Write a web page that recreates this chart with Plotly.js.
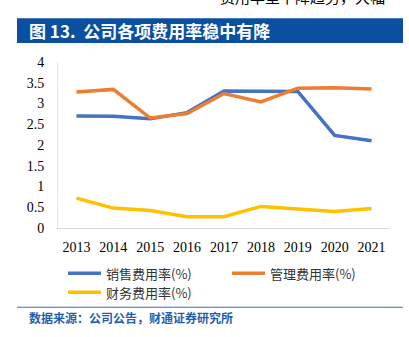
<!DOCTYPE html>
<html>
<head>
<meta charset="utf-8">
<script src="https://cdn.plot.ly/plotly-3.0.1.min.js"></script>
<style>html,body{margin:0;padding:0;background:#fff;}#chart{width:409px;height:337px;}</style>
</head>
<body>
<div id="chart"></div>
<script>
const years = ["2013","2014","2015","2016","2017","2018","2019","2020","2021"];
const salesRate = [2.70, 2.69, 2.63, 2.78, 3.30, 3.29, 3.29, 2.23, 2.10];
const adminRate = [3.28, 3.34, 2.65, 2.76, 3.24, 3.04, 3.37, 3.38, 3.35];
const financeRate = [0.72, 0.48, 0.42, 0.27, 0.27, 0.52, 0.46, 0.40, 0.47];
const seriesNames = ["销售费用率(%)", "管理费用率(%)", "财务费用率(%)"];
const seriesColors = ["#4472C4", "#ED7D31", "#FFC000"];
const labelColors = ["#595959", "#595959", "#262626"];
const yTicks = [0, 0.5, 1, 1.5, 2, 2.5, 3, 3.5, 4];
const titleText = "图 13.  公司各项费用率稳中有降";
const sourceText = "数据来源：公司公告，财通证券研究所";
const topText = "费用率呈下降趋势，大幅";

const allSeries = [salesRate, adminRate, financeRate];
const traces = allSeries.map((vals, i) => ({
  x: years, y: vals, type: "scatter", mode: "lines", name: seriesNames[i],
  line: {color: seriesColors[i], width: 3.5}, hoverinfo: "skip", showlegend: false
}));

const W = 409, H = 337;
const PX0 = 58, PW = 332, PY0 = 228.5, PH = 166.5;
const px = v => (v - PX0) / PW;
const py = v => (PY0 - v) / PH;

const annotations = allSeries.map((vals, i) => ({
  x: years[years.length - 1], y: vals[vals.length - 1], xref: "x", yref: "y",
  text: String(vals[vals.length - 1]), showarrow: false, yanchor: "middle", yshift: 20,
  font: {family: "Liberation Serif, Times New Roman, serif", size: 14, color: labelColors[i]}
}));
annotations.push({
  xref: "paper", yref: "paper", x: px(27), y: py(30.5),
  xanchor: "left", yanchor: "middle", showarrow: false, text: "<b>" + titleText + "</b>",
  font: {family: "Noto Sans CJK SC, sans-serif", size: 17, color: "#ffffff"}
});
annotations.push({
  xref: "paper", yref: "paper", x: px(27), y: py(318),
  xanchor: "left", yanchor: "middle", showarrow: false, text: "<b>" + sourceText + "</b>",
  font: {family: "Noto Sans CJK SC, sans-serif", size: 12, color: "#1F5FAF"}
});
annotations.push({
  xref: "paper", yref: "paper", x: px(218), y: py(9),
  xanchor: "left", yanchor: "bottom", showarrow: false, text: topText,
  font: {family: "Noto Sans CJK SC, sans-serif", size: 15, color: "#000000"}
});

const shapes = [
  {type: "rect", xref: "paper", yref: "paper",
   x0: px(17), x1: px(403), y0: py(43), y1: py(18),
   fillcolor: "#0A4FA0", line: {width: 0}, layer: "below"},
  {type: "line", xref: "paper", yref: "paper",
   x0: px(17), x1: px(403), y0: py(308), y1: py(308),
   line: {color: "#2E75B6", width: 1.2}}
];

// legend drawn as shapes + annotations (2 columns)
const legendPos = [[68, 274], [232, 274], [68, 293]];
seriesNames.forEach((name, i) => {
  const [lx, ly] = legendPos[i];
  shapes.push({type: "line", xref: "paper", yref: "paper",
    x0: px(lx), x1: px(lx + 33), y0: py(ly), y1: py(ly),
    line: {color: seriesColors[i], width: 3.5}});
  annotations.push({xref: "paper", yref: "paper", x: px(lx + 36), y: py(ly),
    xanchor: "left", yanchor: "middle", showarrow: false, text: name,
    font: {family: "Noto Sans CJK SC, sans-serif", size: 13, color: "#333333"}});
});

const layout = {
  width: W, height: H,
  margin: {l: 58, r: 18.5, t: 62, b: 108.5, pad: 0},
  paper_bgcolor: "#ffffff", plot_bgcolor: "#ffffff",
  showlegend: false,
  xaxis: {
    type: "category", range: [-0.5, 8.5], showgrid: false, zeroline: false,
    showline: true, linecolor: "#D9D9D9", linewidth: 1, ticks: "",
    ticklabelstandoff: 6,
    tickfont: {family: "Liberation Serif, Times New Roman, serif", size: 14, color: "#000000"},
    fixedrange: true
  },
  yaxis: {
    range: [0, 4], tickvals: yTicks, ticktext: yTicks.map(String), showgrid: false, zeroline: false,
    showline: true, linecolor: "#E4E4E4", linewidth: 1, ticks: "",
    ticklabelstandoff: 10,
    tickfont: {family: "Liberation Serif, Times New Roman, serif", size: 14, color: "#000000"},
    fixedrange: true
  },
  shapes: shapes,
  annotations: annotations
};

Plotly.newPlot("chart", traces, layout, {displayModeBar: false, staticPlot: true});
</script>
</body>
</html>
